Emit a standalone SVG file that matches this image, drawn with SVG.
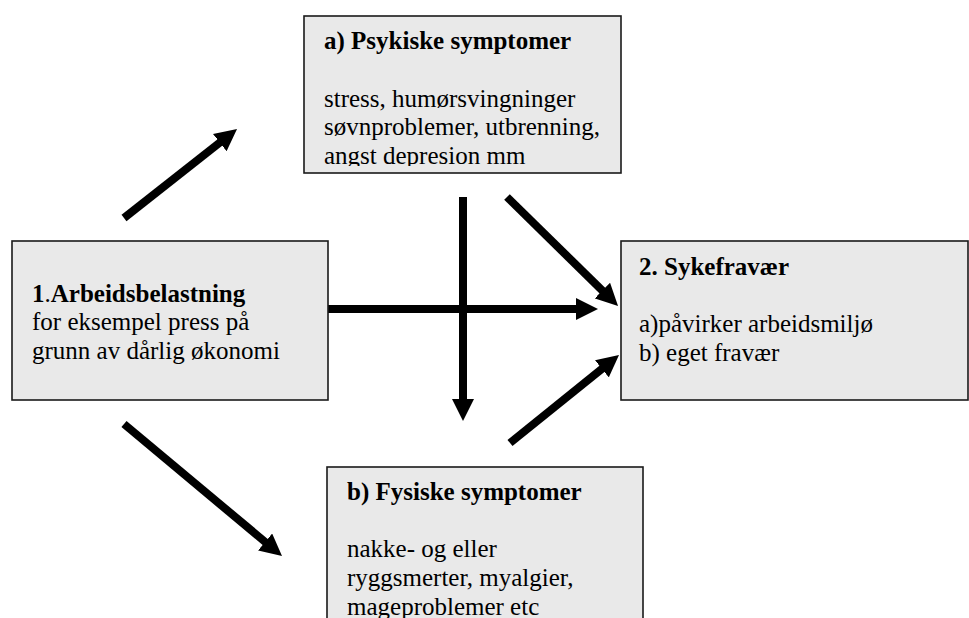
<svg xmlns="http://www.w3.org/2000/svg" width="969" height="618" viewBox="0 0 969 618">
  <style>
    .box { fill: #e9e9e9; stroke: #1a1a1a; stroke-width: 1.6; }
    .t { font-family: "Liberation Serif", "Times New Roman", serif; font-size: 25px; fill: #000; }
    .b { font-weight: bold; }
    .arrow { stroke: #000; stroke-width: 8; fill: none; marker-end: url(#head); }
  </style>
  <defs>
    <marker id="head" viewBox="0 0 22 22" markerWidth="22" markerHeight="22" refX="4" refY="11" orient="auto" markerUnits="userSpaceOnUse">
      <path d="M0,0 L22,11 L0,22 z" fill="#000"/>
    </marker>
    <!-- text area inside the top box; the last line is cut off by it -->
    <clipPath id="clipA">
      <rect x="305" y="17" width="315" height="149"/>
    </clipPath>
  </defs>

  <g id="connectors">
    <line class="arrow" x1="124" y1="218" x2="222.9" y2="140.1"/>
    <line class="arrow" x1="124" y1="424" x2="268.2" y2="544.5"/>
    <line class="arrow" x1="328" y1="309" x2="580" y2="309"/>
    <line class="arrow" x1="463" y1="197" x2="463" y2="403"/>
    <line class="arrow" x1="507" y1="197" x2="605.2" y2="293.4"/>
    <line class="arrow" x1="510" y1="443" x2="605" y2="366.3"/>
  </g>

  <g id="node-psykiske">
    <rect class="box" x="304" y="16" width="317" height="157"/>
    <g clip-path="url(#clipA)">
      <text class="t b" x="324" y="49">a) Psykiske symptomer</text>
      <text class="t" x="324" y="106.5">stress, humørsvingninger</text>
      <text class="t" x="324" y="135">søvnproblemer, utbrenning,</text>
      <text class="t" x="324" y="164">angst depresion mm</text>
    </g>
  </g>

  <g id="node-arbeidsbelastning">
    <rect class="box" x="12" y="241" width="316" height="159"/>
    <text class="t" x="32" y="302"><tspan class="b">1</tspan>.<tspan class="b">Arbeidsbelastning</tspan></text>
    <text class="t" x="32" y="330">for eksempel press på</text>
    <text class="t" x="32" y="358.5">grunn av dårlig økonomi</text>
  </g>

  <g id="node-sykefravaer">
    <rect class="box" x="621" y="241" width="347" height="159"/>
    <text class="t b" x="639" y="275">2. Sykefravær</text>
    <text class="t" x="639" y="332">a)påvirker arbeidsmiljø</text>
    <text class="t" x="639" y="360.5">b) eget fravær</text>
  </g>

  <g id="node-fysiske">
    <rect class="box" x="327" y="467" width="316" height="180"/>
    <text class="t b" x="347" y="500">b) Fysiske symptomer</text>
    <text class="t" x="347" y="557">nakke- og eller</text>
    <text class="t" x="347" y="586">ryggsmerter, myalgier,</text>
    <text class="t" x="347" y="614.5">mageproblemer etc</text>
  </g>
</svg>
